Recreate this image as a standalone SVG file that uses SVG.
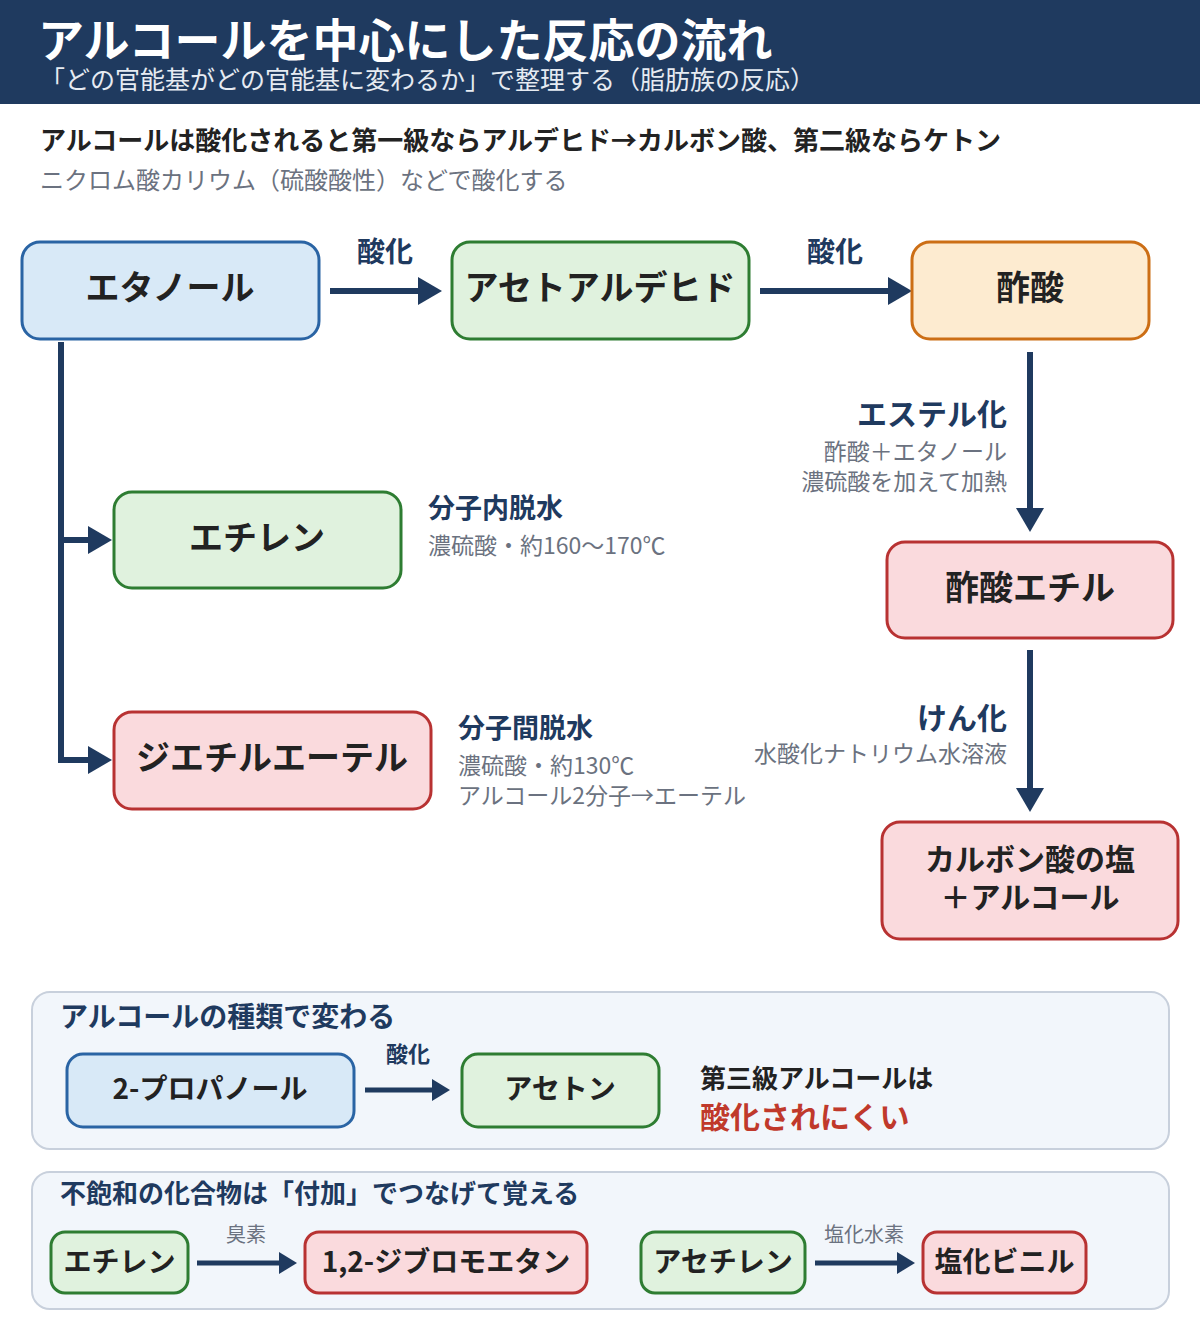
<svg xmlns="http://www.w3.org/2000/svg" width="1200" height="1330" viewBox="0 0 1200 1330">
<style>
text{font-family:"Noto Sans CJK JP","Noto Sans",sans-serif}
.nt{font-weight:700;fill:#222;text-anchor:middle}
.lb{font-weight:700;fill:#1f3a5f}
.gr{fill:#6b7280}
.blue{fill:#d8e9f7;stroke:#2a64a4;stroke-width:3}
.green{fill:#e0f2de;stroke:#2e7d32;stroke-width:3}
.orange{fill:#fdebd0;stroke:#cc6e15;stroke-width:3}
.red{fill:#fadadd;stroke:#b83232;stroke-width:3}
.panel{fill:#f2f6fb;stroke:#c8d0dc;stroke-width:2}
.ln{stroke:#1f3a5f;stroke-width:6;fill:none}
.lns{stroke:#1f3a5f;stroke-width:5;fill:none}
</style>
<defs>
<marker id="ah" markerUnits="userSpaceOnUse" markerWidth="24" markerHeight="28" viewBox="0 0 24 28" refX="4" refY="14" orient="auto"><path d="M0,0 L24,14 L0,28 z" fill="#1f3a5f"/></marker>
<marker id="ahs" markerUnits="userSpaceOnUse" markerWidth="18" markerHeight="22" viewBox="0 0 18 22" refX="4" refY="11" orient="auto"><path d="M0,0 L18,11 L0,22 z" fill="#1f3a5f"/></marker>
</defs>
<rect width="1200" height="1330" fill="#fff"/>
<g id="header">
<rect x="0" y="0" width="1200" height="104" fill="#1f3a5f"/>
<text x="38" y="57" font-size="46" font-weight="700" fill="#fff">アルコールを中心にした反応の流れ</text>
<text x="40" y="89" font-size="25" fill="#e6ebf2">「どの官能基がどの官能基に変わるか」で整理する（脂肪族の反応）</text>
</g>
<g id="intro">
<text x="40" y="150" font-size="26" font-weight="700" fill="#222">アルコールは酸化されると第一級ならアルデヒド→カルボン酸、第二級ならケトン</text>
<text x="40" y="189" font-size="24" class="gr">ニクロム酸カリウム（硫酸酸性）などで酸化する</text>
</g>
<g id="panel-type">
<rect x="32" y="992" width="1137" height="157" rx="18" class="panel"/>
<text x="60" y="1027" font-size="28" class="lb">アルコールの種類で変わる</text>
</g>
<g id="panel-add">
<rect x="32" y="1172" width="1137" height="137" rx="18" class="panel"/>
<text x="60" y="1203" font-size="26" class="lb">不飽和の化合物は「付加」でつなげて覚える</text>
</g>
<g id="connectors">
<line x1="330" y1="291" x2="422" y2="291" class="ln" marker-end="url(#ah)"/>
<line x1="760" y1="291" x2="892" y2="291" class="ln" marker-end="url(#ah)"/>
<line x1="1030" y1="352" x2="1030" y2="512" class="ln" marker-end="url(#ah)"/>
<line x1="1030" y1="650" x2="1030" y2="792" class="ln" marker-end="url(#ah)"/>
<polyline points="61,342 61,760 92,760" class="ln" marker-end="url(#ah)"/>
<line x1="61" y1="540" x2="92" y2="540" class="ln" marker-end="url(#ah)"/>
<line x1="365" y1="1090" x2="436" y2="1090" class="lns" marker-end="url(#ahs)"/>
<line x1="197" y1="1263" x2="283" y2="1263" class="lns" marker-end="url(#ahs)"/>
<line x1="815" y1="1263" x2="901" y2="1263" class="lns" marker-end="url(#ahs)"/>
<text x="385" y="262" font-size="28" class="lb" text-anchor="middle">酸化</text>
<text x="835" y="262" font-size="28" class="lb" text-anchor="middle">酸化</text>
<text x="1007" y="425" font-size="30" class="lb" text-anchor="end">エステル化</text>
<text x="1007" y="460" font-size="23" class="gr" text-anchor="end">酢酸＋エタノール</text>
<text x="1007" y="490" font-size="23" class="gr" text-anchor="end">濃硫酸を加えて加熱</text>
<text x="1007" y="729" font-size="30" class="lb" text-anchor="end">けん化</text>
<text x="1007" y="762" font-size="23" class="gr" text-anchor="end">水酸化ナトリウム水溶液</text>
<text x="428" y="518" font-size="27" class="lb">分子内脱水</text>
<text x="428" y="554" font-size="23" class="gr">濃硫酸・約160～170℃</text>
<text x="458" y="738" font-size="27" class="lb">分子間脱水</text>
<text x="458" y="774" font-size="23" class="gr">濃硫酸・約130℃</text>
<text x="458" y="804" font-size="23" class="gr">アルコール2分子→エーテル</text>
<text x="408" y="1062" font-size="22" class="lb" text-anchor="middle">酸化</text>
<text x="246" y="1242" font-size="20" class="gr" text-anchor="middle">臭素</text>
<text x="864" y="1242" font-size="20" class="gr" text-anchor="middle">塩化水素</text>
</g>
<g id="n-ethanol"><rect x="22" y="242" width="297" height="97" rx="18" class="blue"/><text x="170" y="300" font-size="34" class="nt">エタノール</text></g>
<g id="n-acetaldehyde"><rect x="452" y="242" width="297" height="97" rx="18" class="green"/><text x="600" y="300" font-size="34" class="nt">アセトアルデヒド</text></g>
<g id="n-aceticacid"><rect x="912" y="242" width="237" height="97" rx="18" class="orange"/><text x="1030" y="300" font-size="34" class="nt">酢酸</text></g>
<g id="n-ethylacetate"><rect x="887" y="542" width="286" height="96" rx="18" class="red"/><text x="1030" y="600" font-size="34" class="nt">酢酸エチル</text></g>
<g id="n-salt"><rect x="882" y="822" width="296" height="117" rx="18" class="red"/><text x="1030" y="870" font-size="30" class="nt">カルボン酸の塩</text><text x="1030" y="908" font-size="30" class="nt">＋アルコール</text></g>
<g id="n-ethylene"><rect x="114" y="492" width="287" height="96" rx="18" class="green"/><text x="257" y="550" font-size="34" class="nt">エチレン</text></g>
<g id="n-ether"><rect x="114" y="712" width="317" height="97" rx="18" class="red"/><text x="272" y="770" font-size="34" class="nt">ジエチルエーテル</text></g>
<g id="n-propanol"><rect x="67" y="1054" width="287" height="73" rx="16" class="blue"/><text x="210" y="1099" font-size="28" class="nt">2-プロパノール</text></g>
<g id="n-acetone"><rect x="462" y="1054" width="197" height="73" rx="16" class="green"/><text x="560" y="1099" font-size="28" class="nt">アセトン</text></g>
<g id="note-tertiary">
<text x="700" y="1088" font-size="26" font-weight="700" fill="#222">第三級アルコールは</text>
<text x="700" y="1128" font-size="30" font-weight="700" fill="#c0392b">酸化されにくい</text>
</g>
<g id="n-ethylene2"><rect x="51" y="1232" width="137" height="61" rx="14" class="green"/><text x="119.5" y="1272" font-size="28" class="nt">エチレン</text></g>
<g id="n-dibromo"><rect x="305" y="1232" width="282" height="61" rx="14" class="red"/><text x="446" y="1272" font-size="28" class="nt">1,2-ジブロモエタン</text></g>
<g id="n-acetylene"><rect x="641" y="1232" width="164" height="61" rx="14" class="green"/><text x="723" y="1272" font-size="28" class="nt">アセチレン</text></g>
<g id="n-vinyl"><rect x="923" y="1232" width="163" height="61" rx="14" class="red"/><text x="1004.5" y="1272" font-size="28" class="nt">塩化ビニル</text></g>
</svg>
